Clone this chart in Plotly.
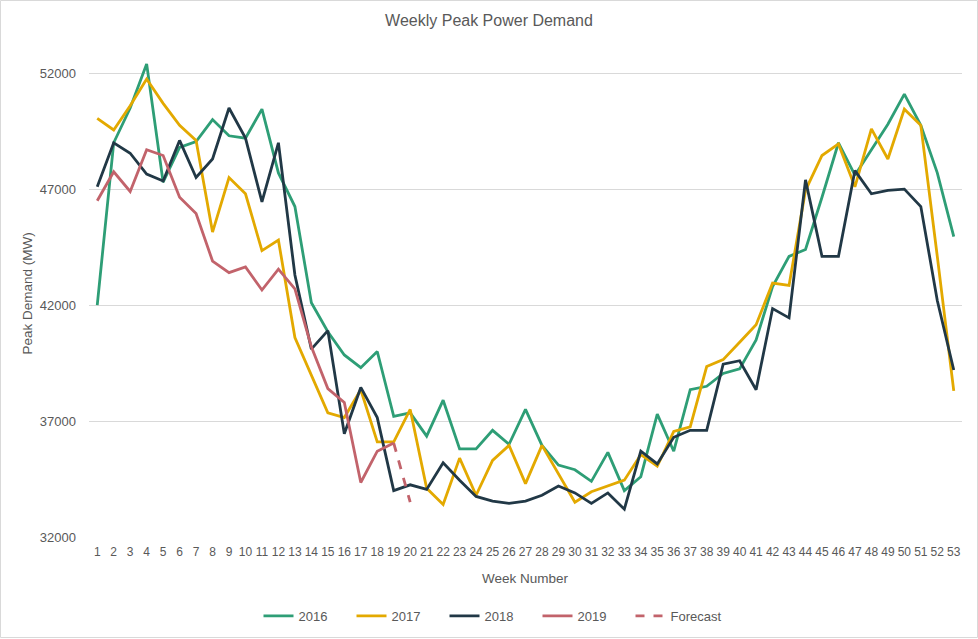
import plotly.graph_objects as go

weeks = list(range(1, 54))

y2016 = [42000, 49000, 50500, 52400, 47300, 48800, 49050, 50000, 49300, 49200,
         50450, 47700, 46250, 42100, 40850, 39850, 39300, 40000, 37200, 37350,
         36350, 37900, 35800, 35800, 36600, 36000, 37500, 35950, 35100, 34900,
         34400, 35650, 34000, 34600, 37300, 35700, 38350, 38500, 39050, 39250,
         40500, 42800, 44100, 44400, 46650, 49000, 47600, 48700, 49800, 51100,
         49750, 47700, 44950]

y2017 = [50050, 49550, 50600, 51750, 50700, 49750, 49100, 45150, 47500, 46800,
         44350, 44800, 40600, 38950, 37350, 37150, 38350, 36100, 36100, 37500,
         34100, 33400, 35400, 33800, 35300, 35950, 34300, 35950, 34750, 33500,
         33950, 34200, 34450, 35550, 35050, 36550, 36750, 39350, 39650, 40400,
         41150, 42950, 42850, 46950, 48450, 48950, 47100, 49600, 48300, 50450,
         49750, 44100, 38300]

y2018 = [47100, 49000, 48550, 47650, 47350, 49100, 47500, 48300, 50500, 49200,
         46450, 49000, 43300, 40100, 40900, 36450, 38450, 37150, 34000, 34250,
         34050, 35200, 34450, 33750, 33550, 33450, 33550, 33800, 34200, 33900,
         33450, 33900, 33200, 35700, 35150, 36300, 36600, 36600, 39450, 39600,
         38350, 41850, 41450, 47400, 44100, 44100, 47800, 46800, 46950, 47000,
         46250, 42200, 39200]

y2019 = [46500, 47750, 46900, 48700, 48450, 46650, 45950, 43900, 43400, 43650,
         42650, 43550, 42700, 40200, 38400, 37800, 34350, 35700, 36050]

forecast_weeks = [19, 20]
forecast_vals = [36050, 33500]

y_ticks = [32000, 37000, 42000, 47000, 52000]

series = [
    ("2016", weeks, y2016, "#2E9E76", "solid"),
    ("2017", weeks, y2017, "#E3A900", "solid"),
    ("2018", weeks, y2018, "#213846", "solid"),
    ("2019", weeks[:len(y2019)], y2019, "#C2636B", "solid"),
    ("Forecast", forecast_weeks, forecast_vals, "#C2636B", "dash"),
]

FONT = "Liberation Sans Narrow, Arial Narrow, Liberation Sans, Arial, sans-serif"
GREY = "#595959"

fig = go.Figure()
for name, xs, ys, color, dash in series:
    fig.add_trace(go.Scatter(
        x=xs, y=ys, name=name, mode="lines",
        line=dict(color=color, width=2.8, dash=dash),
    ))

L, R, T, B = 89, 16, 50, 102
W, H = 978, 639
pw, ph = W - L - R, H - T - B

fig.update_layout(
    width=W, height=H, autosize=False,
    margin=dict(l=L, r=R, t=T, b=B),
    paper_bgcolor="white", plot_bgcolor="white",
    font=dict(family=FONT, color=GREY, size=13),
    title=dict(text="Weekly Peak Power Demand", x=0.5, xref="container",
               xanchor="center",
               y=1 - 20 / H, yref="container", yanchor="middle",
               font=dict(size=16, color=GREY, family=FONT)),
    showlegend=True,
    legend=dict(orientation="h", x=(491 - L) / pw, xanchor="center",
                xref="paper", yref="container",
                y=1 - 616 / H, yanchor="middle",
                font=dict(size=13, color=GREY), itemwidth=30,
                entrywidth=48, entrywidthmode="pixels",
                traceorder="normal"),
    xaxis=dict(range=[0.5, 53.5], tickmode="array", tickvals=weeks,
               ticktext=[str(w) for w in weeks], tickangle=0,
               showgrid=False, zeroline=False, showline=False,
               tickfont=dict(size=12, color=GREY), ticks="",
               ticklabelstandoff=6, automargin=False),
    yaxis=dict(range=[32000, 53000], tickmode="array", tickvals=y_ticks,
               ticktext=[str(v) for v in y_ticks],
               showgrid=True, gridcolor="#D9D9D9", gridwidth=1,
               zeroline=False, showline=False,
               tickfont=dict(size=13, color=GREY), ticks="",
               ticklabelstandoff=12, automargin=False),
    annotations=[
        dict(text="Week Number", xref="paper", yref="paper",
             x=0.5, y=(537 - 578) / ph, xanchor="center", yanchor="middle",
             showarrow=False, font=dict(size=13.5, color=GREY)),
        dict(text="Peak Demand (MW)", xref="paper", yref="paper",
             x=(27 - L) / pw, y=0.5, xanchor="center", yanchor="middle",
             textangle=-90, showarrow=False, font=dict(size=13.5, color=GREY)),
    ],
    shapes=[
        dict(type="rect", xref="paper", yref="paper",
             x0=(0.5 - L) / pw, x1=(977.5 - L) / pw,
             y0=(537 - 637.5) / ph, y1=(537 - 0.5) / ph,
             line=dict(color="#D9D9D9", width=1), layer="below"),
    ],
)

fig.write_html(
    "out.html",
    config={"displayModeBar": False},
    post_script="document.body.style.margin='0';document.body.style.overflow='hidden';",
)
